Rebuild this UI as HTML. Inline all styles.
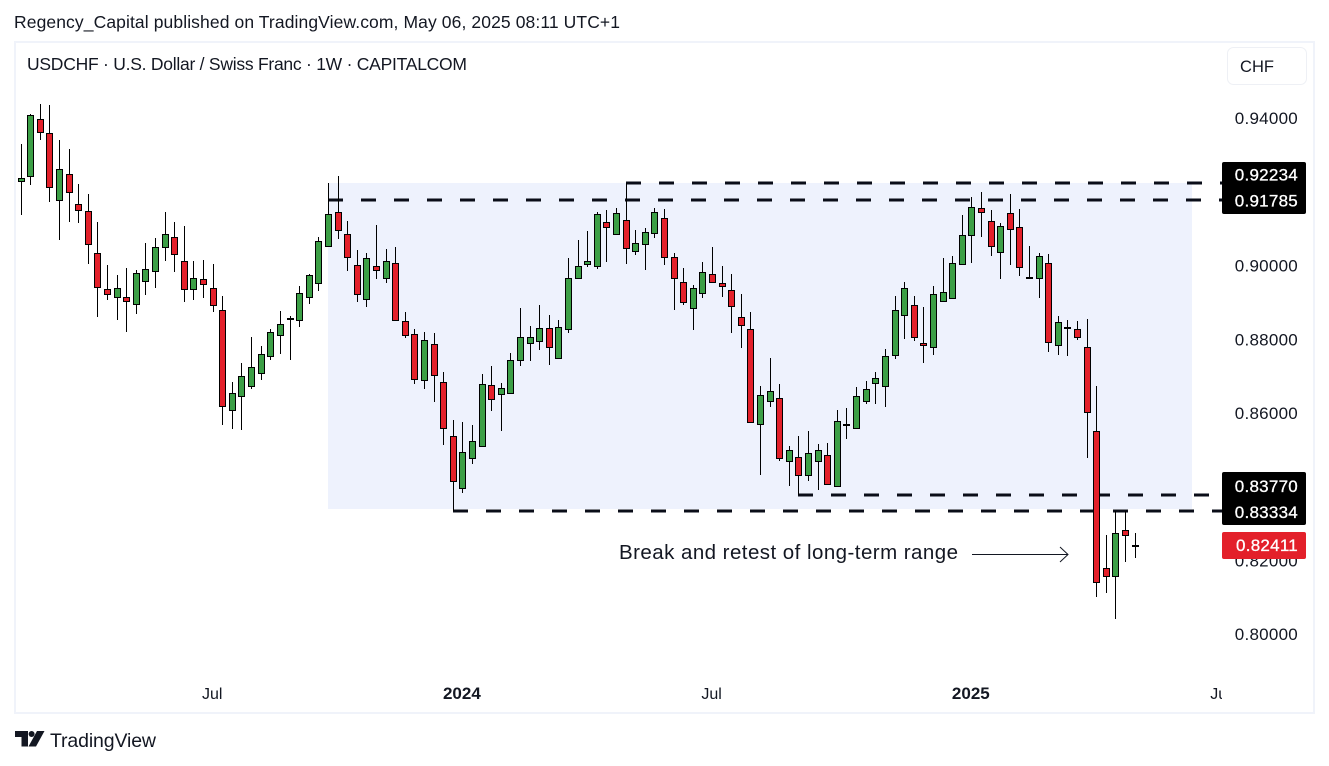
<!DOCTYPE html>
<html lang="en">
<head>
<meta charset="utf-8">
<title>USDCHF weekly chart</title>
<style>
html,body{margin:0;padding:0;background:#fff;width:1329px;height:766px;overflow:hidden}
svg{display:block;position:absolute;left:0;top:0}
text{font-family:"Liberation Sans",sans-serif;fill:#131722}
</style>
</head>
<body>
<svg id="chart" width="1329" height="766" viewBox="0 0 1329 766" xmlns="http://www.w3.org/2000/svg">
  <defs>
    <clipPath id="time-clip"><rect x="15" y="670" width="1207" height="42"></rect></clipPath>
  </defs>
  <text x="14" y="28" font-size="17.5" textLength="606" lengthAdjust="spacing">Regency_Capital published on TradingView.com, May 06, 2025 08:11 UTC+1</text>
  <rect x="15" y="42" width="1299" height="671" fill="none" stroke="#f0f3fa" stroke-width="2"></rect>
  <text x="27" y="70" font-size="17.5" textLength="440" lengthAdjust="spacing">USDCHF · U.S. Dollar / Swiss Franc · 1W · CAPITALCOM</text>
  <g id="range-layer"></g>
  <g id="ticks-layer"></g>
  <g id="levels-layer"></g>
  <g id="candles-layer"></g>
  <g id="labels-layer"></g>
  <rect x="1227.5" y="47.5" width="79" height="37" rx="6" fill="#fff" stroke="#eef0f5"></rect>
  <text x="1257" y="72" font-size="16.5" text-anchor="middle">CHF</text>
  <text x="619" y="559" font-size="20.5" textLength="339" lengthAdjust="spacing">Break and retest of long-term range</text>
  <g fill="none" stroke="#131722" stroke-width="1">
    <line x1="972" y1="554.5" x2="1068" y2="554.5"></line>
    <polyline points="1060,547 1068,554.5 1060,562"></polyline>
  </g>
  <g fill="#131722">
    <polygon points="15,731 28,731 28,746.5 21.5,746.5 21.5,737 15,737"></polygon>
    <circle cx="31.6" cy="734" r="3"></circle>
    <polygon points="37,731 44.5,731 36,746.5 28.5,746.5"></polygon>
  </g>
  <text x="50" y="747" font-size="19.5" textLength="106" lengthAdjust="spacing">TradingView</text>
</svg>
<script>
// Price scale and time scale
var priceTicks = [0.94, 0.92, 0.90, 0.88, 0.86, 0.84, 0.82, 0.80];
var timeTickWeeks = [20, 46, 72, 99, 125];
var timeTickLabels = ["Jul", "2024", "Jul", "2025", "Jul"];
var timeTickBold = [false, true, false, true, false];

// Horizontal levels: price and the candle index each starts from
var levelPrices = [0.92234, 0.91785, 0.83770, 0.83334];
var levelStartWeeks = [63, 32, 81, 45];
var lastPrice = 0.82411;

// Shaded range
var rangeStartWeek = 32;
var rangeEndWeek = 122;
var rangeTopPrice = 0.92234;
var rangeBottomPrice = 0.83396;

// Weekly OHLC, one entry per candle
var opens = [
.92261,.92397,.93971,.93591,.91746,.92478,.91664,.91474,.90334,.89357,
.89113,.89140,.88923,.89547,.89819,.90470,.90769,.90117,.89330,.89629,
.89385,.88788,.86047,.86427,.86698,.87051,.87512,.88082,.88570,.88489,
.89113,.89493,.90497,.91447,.90850,.90009,.89059,.89982,.89629,.90063,
.88489,.88136,.86861,.87865,.86834,.85368,.83930,.84744,.85070,.86752,
.86481,.86508,.87404,.87865,.87919,.88299,.87458,.88245,.89629,.90009,
.89955,.91176,.90823,.91230,.90362,.90552,.90850,.91284,.90226,.89547,
.88815,.89222,.89765,.89520,.89330,.88598,.88272,.85667,.86291,.86399,
.84663,.84798,.84283,.84663,.84852,.83984,.85703,.85558,.86291,.86779,
.86698,.87539,.88625,.88923,.87892,.87756,.89005,.89086,.90009,.90796,
.91556,.91203,.90334,.91420,.91040,.89701,.89629,.90063,.87811,.88326,
.88272,.87783,.85504,.81786,.81542,.82817,.82411];
var highs = [
.93302,.94116,.94387,.94360,.93410,.93157,.92216,.91945,.91185,.90018,
.89746,.89936,.89873,.90615,.90751,.91456,.91185,.91076,.90126,.90154,
.90045,.89177,.86843,.87349,.88064,.87820,.88281,.88769,.88634,.89448,
.89774,.90778,.92243,.92433,.91212,.90425,.90334,.91103,.90452,.90506,
.88742,.88281,.88200,.88173,.87114,.85811,.85757,.85676,.87060,.87277,
.86816,.87630,.88851,.88362,.88932,.88661,.88525,.90208,.90696,.90941,
.91456,.91510,.91565,.92234,.90968,.91022,.91565,.91538,.90334,.89936,
.89466,.90099,.90506,.89991,.89774,.89231,.88742,.86734,.87494,.86788,
.85106,.85377,.85513,.85160,.85187,.86083,.86137,.86707,.86870,.87114,
.87738,.89177,.89557,.89177,.88878,.89448,.90208,.90262,.91375,.91863,
.91999,.91510,.91158,.91945,.91538,.90533,.90334,.90316,.88634,.88525,
.88498,.88552,.86734,.82691,.83334,.83334,.82745];
var lows = [
.91375,.92189,.93410,.91737,.90696,.91185,.91158,.90045,.88607,.89068,
.88525,.88200,.88688,.89204,.89394,.90126,.89828,.89014,.89068,.89122,
.88742,.85676,.85567,.85540,.86653,.86897,.87440,.87603,.87440,.88335,
.88959,.89312,.90497,.90723,.89855,.89014,.88878,.89638,.89529,.88489,
.88037,.86788,.86653,.86300,.85133,.83334,.83830,.84617,.85070,.86056,
.85513,.86508,.87277,.87413,.87711,.87304,.87458,.88172,.89629,.89964,
.89909,.90099,.90823,.90045,.90289,.89882,.90751,.90018,.88797,.88932,
.88254,.89122,.89520,.89149,.88173,.87765,.85721,.84319,.86164,.84699,
.84020,.83767,.84156,.83912,.84038,.83984,.85296,.85558,.86246,.86246,
.86164,.87467,.88010,.87955,.87358,.87575,.89005,.89086,.90009,.90072,
.90778,.90262,.89638,.90018,.89719,.89683,.89122,.87657,.87575,.87548,
.87983,.84780,.81017,.81116,.80411,.81958,.82066];
var closes = [
.92370,.94079,.93591,.92098,.92614,.91963,.91474,.90552,.89385,.89195,
.89385,.89005,.89792,.89900,.90497,.90850,.90280,.89330,.89656,.89466,
.88896,.86155,.86535,.86996,.87241,.87594,.88191,.88408,.88516,.89249,
.89737,.90660,.91393,.90931,.90199,.89195,.90199,.89846,.90117,.88489,
.88082,.86888,.87973,.86997,.85558,.84120,.84934,.85233,.86779,.86345,
.86671,.87431,.88055,.88055,.88299,.87756,.88326,.89656,.89982,.90117,
.91393,.91013,.91420,.90443,.90606,.90904,.91447,.90199,.89629,.88978,
.89385,.89819,.89520,.89412,.88869,.88353,.85721,.86481,.86589,.84744,
.84988,.84283,.84907,.84988,.84038,.85775,.85703,.86454,.86644,.86942,
.87539,.88788,.89385,.88028,.87811,.89222,.89276,.90063,.90823,.91583,
.91420,.90497,.91067,.90959,.89927,.89701,.90253,.87892,.88462,.88272,
.88028,.85992,.81379,.81542,.82736,.82654,.82411];

// Axis functions
function xAxis(week) { return 21.13 + week * 9.603; }
function yAxis(price) { return 183.3 + (0.92234 - price) * 3685; }

var NS = "http://www.w3.org/2000/svg";
function make(tag, attrs, parent) {
  var el = document.createElementNS(NS, tag);
  for (var k in attrs) el.setAttribute(k, attrs[k]);
  parent.appendChild(el);
  return el;
}
var GREEN = "#3c9f46", RED = "#e3202a";

// Shaded range
var rangeLayer = document.getElementById("range-layer");
var rangeX = Math.round(xAxis(rangeStartWeek));
var rangeY = Math.round(yAxis(rangeTopPrice));
var rangeEl = make("rect", {
  x: rangeX, y: rangeY,
  width: 1192 - rangeX,
  height: Math.round(yAxis(rangeBottomPrice)) - rangeY,
  fill: "#eef2fd"
}, rangeLayer);



// Price ticks
var ticksLayer = document.getElementById("ticks-layer");
priceTicks.forEach(function (p) {
  var t = make("text", {
    x: 1298, y: yAxis(p) + 6, "font-size": 17, "text-anchor": "end", "letter-spacing": "0.25"
  }, ticksLayer);
  t.textContent = p.toFixed(5);
  
  
});

// Time ticks
var timeGroup = make("g", { "clip-path": "url(#time-clip)" }, ticksLayer);


timeTickWeeks.forEach(function (w, i) {
  var t = make("text", {
    x: xAxis(w) - 1, y: 699, "font-size": timeTickBold[i] ? 17 : 16, "text-anchor": "middle",
    "font-weight": timeTickBold[i] ? "700" : "400"
  }, timeGroup);
  t.textContent = timeTickLabels[i];
  
  
});

// Horizontal dashed levels
var levelsLayer = document.getElementById("levels-layer");
levelPrices.forEach(function (p, i) {
  var y = Math.round(yAxis(p));
  var l = make("line", {
    x1: Math.floor(xAxis(levelStartWeeks[i])), y1: y, x2: 1222, y2: y,
    stroke: "#0a0d18", "stroke-width": 3, "stroke-dasharray": "15 18"
  }, levelsLayer);
  
  
});

// Candles
var candlesLayer = document.getElementById("candles-layer");
closes.forEach(function (c, i) {
  var o = opens[i], h = highs[i], lo = lows[i];
  var cx = Math.floor(xAxis(i)) + 0.5;
  var g = make("g", {}, candlesLayer);
  
  
  make("line", { x1: cx, x2: cx, y1: Math.round(yAxis(h)), y2: Math.round(yAxis(lo)), stroke: "#000", "stroke-width": 1 }, g);
  var top = Math.round(yAxis(Math.max(o, c))) + 0.5;
  var bottom = Math.round(yAxis(Math.min(o, c))) - 0.5;
  make("rect", {
    x: cx - 3, y: top, width: 6, height: Math.max(1, bottom - top),
    fill: c >= o ? GREEN : RED, stroke: "#000", "stroke-width": 1
  }, g);
});

// Price label boxes
var labelsLayer = document.getElementById("labels-layer");
var boxCenters = [174.5, 200.5, 486, 512];
function priceBox(y, h, fill, name) {
  var b = make("rect", { x: 1222, y: y, width: 84, height: h, rx: 2, fill: fill }, labelsLayer);
  
  
}
priceBox(162, 52, "#000000", "upper-level-price-box");
priceBox(472, 53, "#000000", "lower-level-price-box");
priceBox(532, 27, "#e3202a", "last-price-box");
levelPrices.forEach(function (p, i) {
  var t = make("text", {
    x: 1298, y: boxCenters[i] + 6, "font-size": 17, "text-anchor": "end",
    "font-weight": "400", "letter-spacing": "0.25", style: "fill:#fff;stroke:#fff;stroke-width:0.3"
  }, labelsLayer);
  t.textContent = p.toFixed(5);
  
  
});
var lastText = make("text", {
  x: 1298, y: 551, "font-size": 17, "text-anchor": "end", "letter-spacing": "0.25",
  style: "fill:#fff;stroke:#fff;stroke-width:0.3"
}, labelsLayer);
lastText.textContent = lastPrice.toFixed(5);


</script>
</body>
</html>
